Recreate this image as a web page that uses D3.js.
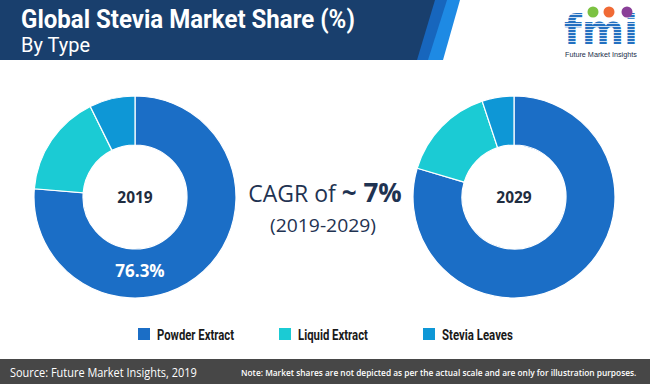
<!DOCTYPE html>
<html><head><meta charset="utf-8">
<script src="https://cdn.jsdelivr.net/npm/d3@7"></script>
<style>html,body{margin:0;padding:0;background:#fff;overflow:hidden}</style>
</head><body>
<script>
const categories = ["Powder Extract", "Liquid Extract", "Stevia Leaves"];
const years = ["2019", "2029"];
const values2019 = [76.3, 16.4, 7.3];
const values2029 = [79.6, 15.3, 5.1];
const colors = ["#1b6ec6", "#1bcbd4", "#0e97d6"];
const highlightLabel = "76.3%";

const W = 650, H = 384;
const svg = d3.select("body").append("svg").attr("width", W).attr("height", H);

// fit a text horizontally to a width using a scale transform
function fitText(sel, x, y, width) {
  const len = sel.node().getComputedTextLength();
  sel.attr("x", 0).attr("y", 0)
     .attr("transform", `translate(${x},${y}) scale(${width/len},1)`);
  return sel;
}

// Header
const defs = svg.append("defs");
const pat = defs.append("pattern").attr("id","stripes").attr("patternUnits","userSpaceOnUse").attr("width",4).attr("height",3);
pat.append("rect").attr("width",4).attr("height",3).attr("fill","#2470c0");
pat.append("rect").attr("y",2.2).attr("width",4).attr("height",0.8).attr("fill","#ffffff");

svg.append("polygon").attr("points","0,0 460,0 443,60 0,60").attr("fill","#1e8ae4");
svg.append("polygon").attr("points","0,0 447,0 428,60 0,60").attr("fill","#1766bd");
svg.append("polygon").attr("points","0,0 435,0 417,60 0,60").attr("fill","#193f6d");

fitText(svg.append("text")
  .attr("font-family","Roboto,'Liberation Sans',sans-serif")
  .attr("font-weight","bold").attr("font-size",25).attr("fill","#fff")
  .text("Global Stevia Market Share (%)"), 21, 28, 334);
fitText(svg.append("text")
  .attr("font-family","Roboto,'Liberation Sans',sans-serif")
  .attr("font-size",21).attr("fill","#fff")
  .text("By Type"), 21, 52, 69);

// Logo
const logo = svg.append("g");
logo.append("text").attr("x",601).attr("y",44).attr("text-anchor","middle")
  .attr("font-family","'DejaVu Sans','Liberation Sans',sans-serif").attr("font-weight","bold")
  .attr("font-size",40).attr("fill","url(#stripes)")
  .attr("textLength",74).attr("lengthAdjust","spacingAndGlyphs").text("fmi");
[[593,12,"#7cc242"],[609,12,"#f06a35"],[627,12,"#8a3f98"]].forEach(([cx,cy,c])=>{
  logo.append("circle").attr("cx",cx).attr("cy",cy).attr("r",5.5).attr("fill",c);
});
fitText(logo.append("text")
  .attr("font-family","'Liberation Sans','Roboto',sans-serif").attr("font-size",8)
  .attr("fill","#1a2e4a").text("Future Market Insights"), 565, 57, 72);

// Donuts
const pie = d3.pie().sort(null).value(d=>d).startAngle(0).endAngle(2*Math.PI);
const outerR = 101, innerR = 52;
const arc = d3.arc().innerRadius(innerR).outerRadius(outerR);
const centers = [[135,197],[514,197]];
[values2019, values2029].forEach((vals, i) => {
  const g = svg.append("g").attr("transform",`translate(${centers[i][0]},${centers[i][1]})`);
  g.selectAll("path").data(pie(vals)).join("path")
    .attr("d", arc).attr("fill",(d,j)=>colors[j])
    .attr("stroke","#fff").attr("stroke-width",1.2);
  g.append("text").attr("y",5.5).attr("text-anchor","middle")
    .attr("font-family","'Open Sans','Noto Sans',sans-serif").attr("font-weight","bold")
    .attr("font-size",15.5).attr("fill","#1f2d40").text(years[i]);
  if (i === 0) {
    g.append("text").attr("x",5).attr("y",80).attr("text-anchor","middle")
      .attr("font-family","'Open Sans','Noto Sans',sans-serif").attr("font-weight","bold")
      .attr("font-size",17).attr("fill","#fff").text(highlightLabel);
  }
});

// CAGR text
const cagr = svg.append("text").attr("x",325).attr("y",202).attr("text-anchor","middle")
  .attr("font-family","'Open Sans','Noto Sans',sans-serif").attr("fill","#1f3352");
cagr.append("tspan").attr("font-size",23).text("CAGR of ");
cagr.append("tspan").attr("font-size",26).attr("font-weight","bold").text("~ 7%");
fitText(svg.append("text")
  .attr("font-family","'Open Sans','Noto Sans',sans-serif").attr("fill","#1f3352")
  .attr("font-size",19).text("(2019-2029)"), 270, 232, 106);

// Legend
const legX = [138, 279, 423], legTextLen = [77, 70, 71];
categories.forEach((c,i)=>{
  svg.append("rect").attr("x",legX[i]).attr("y",328).attr("width",12).attr("height",12).attr("fill",colors[i]);
  fitText(svg.append("text")
    .attr("font-family","Roboto,'Liberation Sans',sans-serif")
    .attr("font-weight","bold").attr("font-size",14).attr("fill","#1a1a1a")
    .text(c), legX[i]+19, 339.5, legTextLen[i]);
});

// Footer
svg.append("rect").attr("x",0).attr("y",359).attr("width",W).attr("height",25).attr("fill","#474747");
fitText(svg.append("text").attr("font-family","'Open Sans','Noto Sans',sans-serif")
  .attr("font-size",13).attr("fill","#fff")
  .text("Source: Future Market Insights, 2019"), 10, 377, 187);
fitText(svg.append("text").attr("font-family","'Open Sans','Noto Sans',sans-serif")
  .attr("font-size",9.5).attr("font-weight","600").attr("fill","#fff")
  .text("Note: Market shares are not depicted as per the actual scale and are only for illustration purposes."), 241, 375.5, 396);
</script>
</body></html>
